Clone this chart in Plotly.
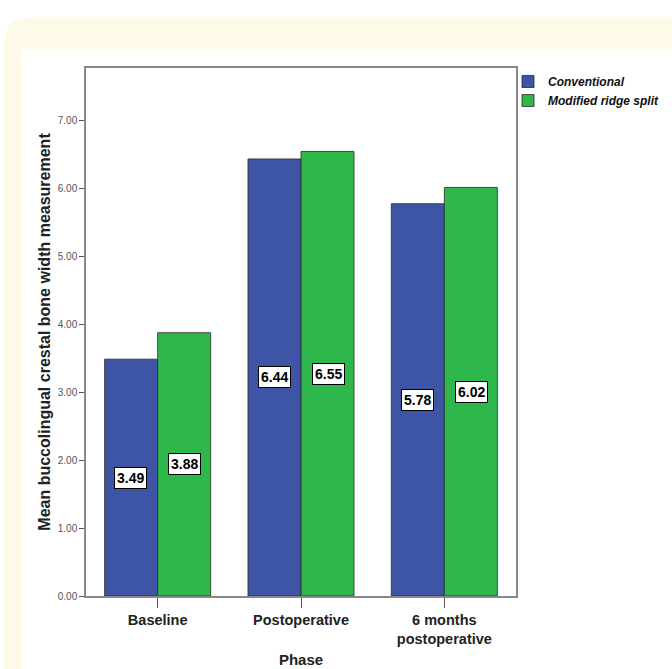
import plotly.graph_objects as go

phases = ["Baseline", "Postoperative", "6 months<br>postoperative"]
conventional = [3.49, 6.44, 5.78]
modified = [3.88, 6.55, 6.02]
series_names = ["Conventional", "Modified ridge split"]
y_ticks = [0, 1, 2, 3, 4, 5, 6, 7]
y_ticktext = ["0.00", "1.00", "2.00", "3.00", "4.00", "5.00", "6.00", "7.00"]

W, H = 672, 669
L, R, T, B = 86, 516, 68, 596

def px(x):
    return (x - L) / (R - L)

def py(y):
    return (B - y) / (B - T)

fig = go.Figure()
fig.add_trace(go.Bar(x=phases, y=conventional, name=series_names[0],
                     marker=dict(color="#3E55A6", line=dict(color="#2a2a2a", width=0.8))))
fig.add_trace(go.Bar(x=phases, y=modified, name=series_names[1],
                     marker=dict(color="#2EB84B", line=dict(color="#2a2a2a", width=0.8))))

for i, ph in enumerate(phases):
    for vals, shift in ((conventional, -27), (modified, 27)):
        fig.add_annotation(x=ph, y=vals[i] / 2, xshift=shift, text="<b>%.2f</b>" % vals[i],
                           showarrow=False, bgcolor="white", bordercolor="black", borderwidth=1,
                           borderpad=2, font=dict(size=14, color="black", family="Liberation Sans, Arial"))

# cream rounded border and white inner panel
r = 28
x0, y0 = 4, 17
path = (f"M {px(x0)} {py(y0 + r)} Q {px(x0)} {py(y0)} {px(x0 + r)} {py(y0)} "
        f"L {px(W)} {py(y0)} L {px(W)} {py(H)} L {px(x0)} {py(H)} Z")
fig.add_shape(type="path", path=path, xref="paper", yref="paper",
              fillcolor="#FFFAE8", line=dict(width=0), layer="below")
fig.add_shape(type="rect", x0=px(21), x1=px(W), y0=py(49), y1=py(H), xref="paper", yref="paper",
              fillcolor="white", line=dict(width=0), layer="below")

fig.update_layout(
    width=W, height=H,
    margin=dict(l=L, r=W - R, t=T, b=H - B, autoexpand=False),
    paper_bgcolor="white", plot_bgcolor="#EEEEEE",
    barmode="group", bargap=0.26, bargroupgap=0,
    font=dict(family="Liberation Sans, Arial", color="#222"),
    legend=dict(x=px(508), y=py(67), xanchor="left", yanchor="top",
                font=dict(size=12, style="italic", weight="bold", color="#111"),
                bgcolor="rgba(0,0,0,0)", tracegroupgap=0, itemwidth=30),
    showlegend=True,
)
fig.update_xaxes(showline=True, linecolor="#888", linewidth=1.5, mirror=True,
                 ticks="outside", ticklen=10, tickcolor="#555",
                 tickfont=dict(size=14.5, weight="bold", color="#222"),
                 title=dict(text="<b>Phase</b>", font=dict(size=15, color="#222"), standoff=8))
fig.update_yaxes(range=[0, 7.78], showline=True, linecolor="#888", linewidth=1.5, mirror=True,
                 showgrid=False, zeroline=False,
                 tickvals=y_ticks, ticktext=y_ticktext, ticks="outside", ticklen=5, tickcolor="#555",
                 tickfont=dict(size=10, color="#555"),
                 title=dict(text="<b>Mean buccolingual crestal bone width measurement</b>",
                            font=dict(size=16, color="#222"), standoff=3))

fig.write_html("out.html", config={"displayModeBar": False},
               post_script="document.body.style.margin='0px';document.body.style.overflow='hidden';")
